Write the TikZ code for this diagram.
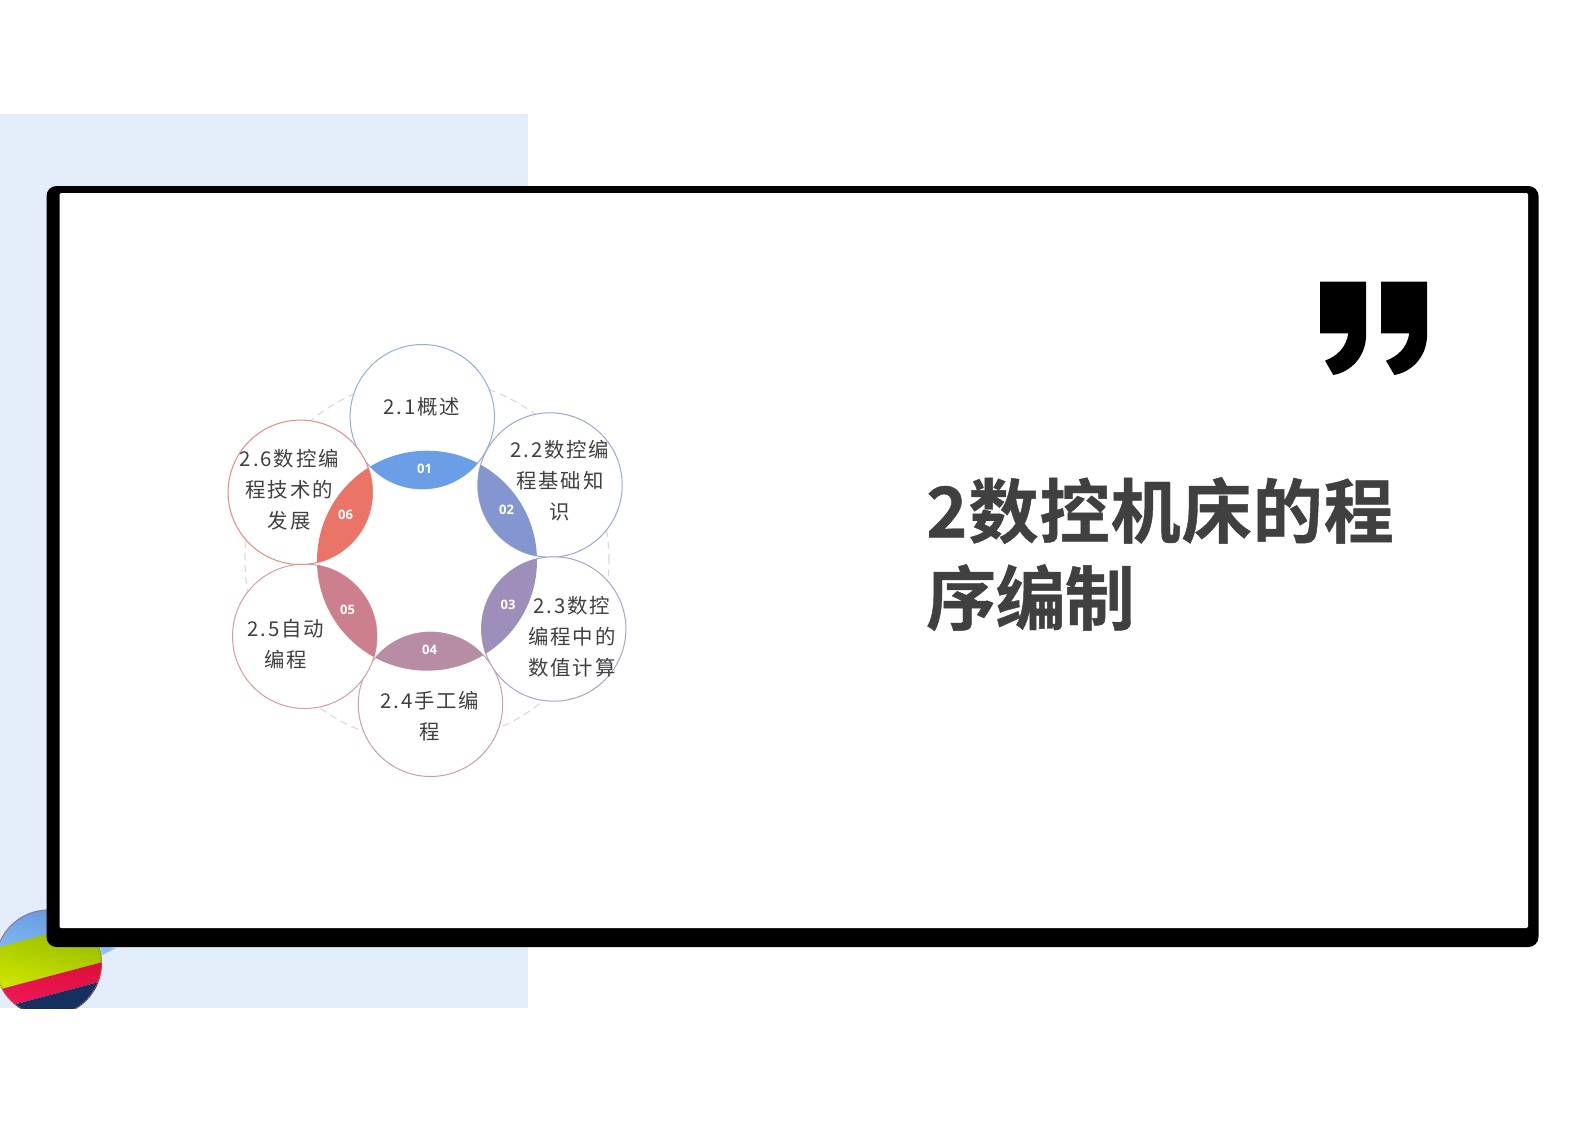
\documentclass[tikz,border=0pt]{standalone}
\usepackage{fontspec}
\setmainfont{Noto Sans CJK SC}
\newfontfamily\labelfont[LetterSpace=9]{Noto Sans CJK SC}
\newfontfamily\titlefont[LetterSpace=1.5,FakeBold=0.6]{Noto Sans CJK SC Bold}
\newfontfamily\titlefontb[LetterSpace=-1,FakeBold=0.6]{Noto Sans CJK SC Bold}
\newfontfamily\numfont{Open Sans}[BoldFont=* Bold]
\definecolor{paleblue}{HTML}{E3EDF9}
\definecolor{ink}{HTML}{404040}
\definecolor{lineA}{HTML}{8FB0DE}
\definecolor{lineB}{HTML}{9AA8D6}
\definecolor{lineC}{HTML}{A9A3C6}
\definecolor{lineD}{HTML}{C4A0B2}
\definecolor{lineE}{HTML}{DB9A9E}
\definecolor{lineF}{HTML}{E58B80}
\definecolor{lensA}{HTML}{6A9FE8}
\definecolor{lensB}{HTML}{8496CF}
\definecolor{lensC}{HTML}{9D8FB9}
\definecolor{lensD}{HTML}{B78DA5}
\definecolor{lensE}{HTML}{CC7F8C}
\definecolor{lensF}{HTML}{EA7467}
\definecolor{ballBlueT}{HTML}{5E8FD6}
\definecolor{ballBlueB}{HTML}{7DB6F2}
\definecolor{ballGreenT}{HTML}{8DB400}
\definecolor{ballGreenB}{HTML}{CDE600}
\definecolor{ballRedT}{HTML}{DC1038}
\definecolor{ballRedB}{HTML}{F0185A}
\definecolor{ballNavy}{HTML}{15305F}
\definecolor{ballEdge}{HTML}{A86A60}
\tikzset{
  petal/.style={circle,draw=#1,fill=white,line width=1pt,minimum size=144.4pt,inner sep=0pt},
  petaltext/.style={font=\labelfont\fontsize{20.4}{31}\selectfont,text=ink,align=center,inner sep=0pt},
  lensnum/.style={font=\numfont\bfseries\fontsize{13}{15}\selectfont,text=white,inner sep=0pt},
  headline/.style={font=\titlefont\fontsize{70}{87}\selectfont,text=ink,align=left,inner sep=0pt,anchor=north west},
}
\begin{document}
\begin{tikzpicture}[x=1pt,y=-1pt]
\useasboundingbox (0,0) rectangle (1587,1122);
\fill[white] (0,0) rectangle (1587,1122);
% pale panel
\fill[paleblue] (0,114) rectangle (527.5,1008);
% striped ball
\fill[ballBlueB,opacity=.8] (100,946) -- (116,948) -- (102,955) -- cycle;
\begin{scope}
  \clip (0,0) rectangle (1587,1008);
  \clip (48.5,963) circle [radius=53.5pt];
  \shade[top color=ballBlueT,bottom color=ballBlueB,shading angle=-15]
    (-10,900) -- (115,900) -- (115,920) -- (-10,950) -- cycle;
  \shade[top color=ballGreenT,bottom color=ballGreenB,shading angle=-15]
    (-10,949.5) -- (110,917) -- (110,960) -- (-10,992) -- cycle;
  \shade[top color=ballRedT,bottom color=ballRedB,shading angle=-15]
    (-10,992) -- (110,960) -- (110,979) -- (-10,1011) -- cycle;
  \fill[ballNavy] (-10,1011) -- (110,979) -- (110,1020) -- (-10,1020) -- cycle;
  \draw[ballEdge,line width=1.2pt,densely dotted] (48.5,963) circle [radius=53pt];
\end{scope}
% frame
\fill[black,rounded corners=10pt] (46.5,186) rectangle (1538.5,947);
\fill[white,rounded corners=1.5pt] (59.5,193) rectangle (1528,928);
% quote marks
\foreach \dx in {0,61}{
  \fill[black,shift={(\dx,0)}] (1320,281.7) -- (1366,281.7) -- (1366,337)
    .. controls (1365,358) and (1350,372) .. (1333.3,375) -- (1325,360.7)
    .. controls (1337,356) and (1346,348) .. (1348.3,333.3) -- (1320,333.3) -- cycle;
}
% dashed ring
\coordinate (hub) at (427,560.7);
\draw[draw=black!14,line width=1.2pt,dash pattern=on 7pt off 5pt] (hub) circle [radius=182pt];
% petals
\node[petal=lineA] (c1) at (422.3,416.7) {};
\node[petal=lineB] (c2) at (550,485) {};
\node[petal=lineC] (c3) at (553.7,629) {};
\node[petal=lineD] (c4) at (430.5,704.3) {};
\node[petal=lineE] (c5) at (304.7,636.3) {};
\node[petal=lineF] (c6) at (300.3,492.3) {};
% lenses
\foreach \c/\col in {c1/lensA,c2/lensB,c3/lensC,c4/lensD,c5/lensE,c6/lensF}{
  \begin{scope}
    \clip (\c) circle [radius=72.2pt];
    \fill[\col] (hub) circle [radius=110pt];
  \end{scope}
}
% numbers
\node[lensnum] (n1) at (424.5,469.3) {01};
\node[lensnum] (n2) at (506.5,510.3) {02};
\node[lensnum] (n3) at (508,605.3) {03};
\node[lensnum] (n4) at (429.5,650.3) {04};
\node[lensnum] (n5) at (347.5,610) {05};
\node[lensnum] (n6) at (345.5,515) {06};
% labels
\node[petaltext] (t1) at (421.7,407) {2.1概述};
\node[petaltext] (t2) at (560,480.5) {2.2数控编\\程基础知\\识};
\node[petaltext] (t3) at (572,637) {2.3数控\\编程中的\\数值计算};
\node[petaltext] (t4) at (430,716.5) {2.4手工编\\程};
\node[petaltext] (t5) at (286,644) {2.5自动\\编程};
\node[petaltext] (t6) at (289.3,490) {2.6数控编\\程技术的\\发展};
% title
\node[headline] (title) at (926,477) {2数控机床的程\\{\titlefontb\fontsize{70}{87}\selectfont 序编制}};
\end{tikzpicture}
\end{document}
